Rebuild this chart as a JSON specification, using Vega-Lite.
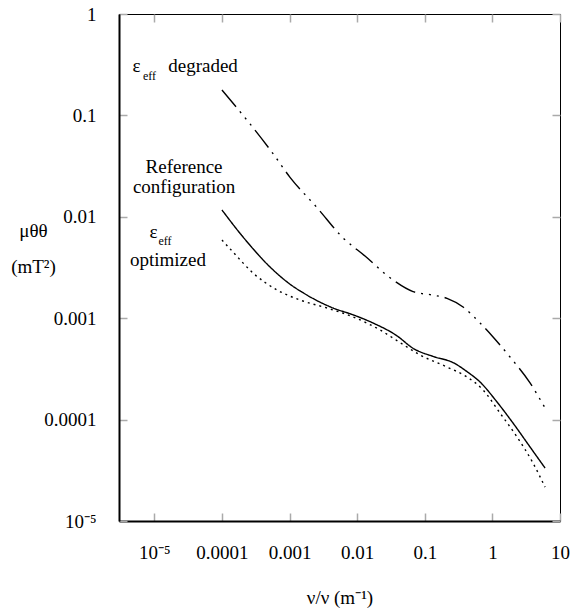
{
  "$schema": "https://vega.github.io/schema/vega-lite/v6.json",
  "width": 441,
  "height": 507,
  "autosize": {"type": "none"},
  "padding": {"left": 119, "top": 14, "right": 10, "bottom": 88},
  "background": "white",
  "config": {
    "view": {"stroke": "black", "strokeWidth": 1},
    "font": "Liberation Serif",
    "axis": {"grid": false, "labelFont": "Liberation Serif", "titleFont": "Liberation Serif"},
    "text": {"font": "Liberation Serif"}
  },
  "datasets": {
    "curves": [
      {"series": "degraded", "x": 0.0001, "y": 0.178},
      {"series": "degraded", "x": 0.000569, "y": 0.042},
      {"series": "degraded", "x": 0.001016, "y": 0.0245},
      {"series": "degraded", "x": 0.00255, "y": 0.0123},
      {"series": "degraded", "x": 0.00618, "y": 0.0062},
      {"series": "degraded", "x": 0.01306, "y": 0.0041},
      {"series": "degraded", "x": 0.0339, "y": 0.00238},
      {"series": "degraded", "x": 0.067, "y": 0.00183},
      {"series": "degraded", "x": 0.1324, "y": 0.00169},
      {"series": "degraded", "x": 0.2133, "y": 0.00157},
      {"series": "degraded", "x": 0.368, "y": 0.00129},
      {"series": "degraded", "x": 0.656, "y": 0.000897},
      {"series": "degraded", "x": 1.023, "y": 0.000653},
      {"series": "degraded", "x": 1.824, "y": 0.000414},
      {"series": "degraded", "x": 3.606, "y": 0.00023},
      {"series": "degraded", "x": 6.01, "y": 0.00013},
      {"series": "reference", "x": 0.0001, "y": 0.01167},
      {"series": "reference", "x": 0.000205, "y": 0.00632},
      {"series": "reference", "x": 0.000514, "y": 0.0032},
      {"series": "reference", "x": 0.000916, "y": 0.00228},
      {"series": "reference", "x": 0.00181, "y": 0.00169},
      {"series": "reference", "x": 0.0044, "y": 0.00126},
      {"series": "reference", "x": 0.00869, "y": 0.00108},
      {"series": "reference", "x": 0.01714, "y": 0.000897},
      {"series": "reference", "x": 0.0388, "y": 0.00067},
      {"series": "reference", "x": 0.067, "y": 0.000505},
      {"series": "reference", "x": 0.1324, "y": 0.00042},
      {"series": "reference", "x": 0.262, "y": 0.000365},
      {"series": "reference", "x": 0.422, "y": 0.000297},
      {"series": "reference", "x": 0.656, "y": 0.000235},
      {"series": "reference", "x": 1.172, "y": 0.000149},
      {"series": "reference", "x": 2.018, "y": 0.0000925},
      {"series": "reference", "x": 3.606, "y": 0.0000537},
      {"series": "reference", "x": 6.01, "y": 0.0000333},
      {"series": "optimized", "x": 0.0001, "y": 0.0059},
      {"series": "optimized", "x": 0.0001455, "y": 0.0045},
      {"series": "optimized", "x": 0.000288, "y": 0.00279},
      {"series": "optimized", "x": 0.000652, "y": 0.0019},
      {"series": "optimized", "x": 0.001429, "y": 0.00151},
      {"series": "optimized", "x": 0.00358, "y": 0.00126},
      {"series": "optimized", "x": 0.00869, "y": 0.00103},
      {"series": "optimized", "x": 0.02178, "y": 0.000766},
      {"series": "optimized", "x": 0.0431, "y": 0.000575},
      {"series": "optimized", "x": 0.0851, "y": 0.000434},
      {"series": "optimized", "x": 0.2133, "y": 0.00033},
      {"series": "optimized", "x": 0.422, "y": 0.000263},
      {"series": "optimized", "x": 0.728, "y": 0.000196},
      {"series": "optimized", "x": 1.297, "y": 0.000116},
      {"series": "optimized", "x": 2.317, "y": 0.0000673},
      {"series": "optimized", "x": 3.99, "y": 0.0000373},
      {"series": "optimized", "x": 6.01, "y": 0.0000216}
    ],
    "labels": [
      {"text": "ε", "x": 0.00000545, "y": 0.268},
      {"text": "degraded", "x": 0.0000525, "y": 0.268},
      {"text": "Reference", "x": 0.0000275, "y": 0.0272},
      {"text": "configuration", "x": 0.0000275, "y": 0.0173},
      {"text": "ε", "x": 0.0000097, "y": 0.00618},
      {"text": "optimized", "x": 0.0000159, "y": 0.00325}
    ],
    "subs": [
      {"text": "eff", "x": 0.00000847, "y": 0.2235},
      {"text": "eff", "x": 0.00001435, "y": 0.00527}
    ]
  },
  "layer": [
    {
      "data": {"name": "curves"},
      "mark": {"type": "line", "interpolate": "monotone", "strokeWidth": 1.4, "color": "black", "strokeCap": "butt"},
      "encoding": {
        "x": {
          "field": "x", "type": "quantitative",
          "scale": {"type": "log", "domain": [0.000003, 10], "nice": false},
          "axis": {
            "orient": "bottom",
            "values": [0.00001, 0.0001, 0.001, 0.01, 0.1, 1, 10],
            "labelExpr": "datum.value < 0.00005 ? '10⁻⁵' : format(datum.value, '')",
            "tickSize": -8, "tickColor": "#aaaaaa", "tickWidth": 1.5,
            "domain": true, "domainColor": "black", "domainWidth": 2,
            "labelFont": "Liberation Serif", "labelFontSize": 19, "labelColor": "black",
            "labelPadding": 30, "labelFlush": false, "labelOverlap": false,
            "title": "ν/ν (m⁻¹)", "titleFont": "Liberation Serif", "titleFontSize": 19,
            "titleFontWeight": "normal", "titleColor": "black",
            "titleBaseline": "alphabetic", "titleY": 82
          }
        },
        "y": {
          "field": "y", "type": "quantitative",
          "scale": {"type": "log", "domain": [0.00001, 1], "nice": false},
          "axis": {
            "orient": "left",
            "values": [0.00001, 0.0001, 0.001, 0.01, 0.1, 1],
            "labelExpr": "datum.value < 0.00005 ? '10⁻⁵' : format(datum.value, '')",
            "tickSize": -8, "tickColor": "#aaaaaa", "tickWidth": 1.5,
            "domain": true, "domainColor": "black", "domainWidth": 2,
            "labelFont": "Liberation Serif", "labelFontSize": 19, "labelColor": "black",
            "labelPadding": 31, "labelFlush": false, "labelOverlap": false,
            "title": ["μθθ", "(mT²)"], "titleFont": "Liberation Serif", "titleFontSize": 19,
            "titleFontWeight": "normal", "titleColor": "black", "titleAngle": 0,
            "titleAlign": "center", "titleBaseline": "alphabetic", "titleLineHeight": 36,
            "titleX": -86, "titleY": 222
          }
        },
        "strokeDash": {
          "field": "series", "type": "nominal",
          "scale": {"domain": ["degraded", "reference", "optimized"], "range": [[22, 6, 2, 6, 2, 6, 2, 6], [1, 0], [2, 4]]},
          "legend": null
        }
      }
    },
    {
      "data": {"name": "labels"},
      "mark": {"type": "text", "fontSize": 19, "font": "Liberation Serif", "align": "center", "baseline": "alphabetic", "color": "black"},
      "encoding": {
        "x": {"field": "x", "type": "quantitative", "axis": null},
        "y": {"field": "y", "type": "quantitative", "axis": null},
        "text": {"field": "text"}
      }
    },
    {
      "data": {"name": "subs"},
      "mark": {"type": "text", "fontSize": 12, "font": "Liberation Serif", "align": "center", "baseline": "alphabetic", "color": "black"},
      "encoding": {
        "x": {
          "field": "x", "type": "quantitative",
          "axis": {
            "orient": "top", "values": [0.00001, 0.0001, 0.001, 0.01, 0.1, 1, 10],
            "labels": false, "domain": false, "title": null,
            "tickSize": -8, "tickColor": "#aaaaaa", "tickWidth": 1.5
          }
        },
        "y": {
          "field": "y", "type": "quantitative",
          "axis": {
            "orient": "right", "values": [0.00001, 0.0001, 0.001, 0.01, 0.1, 1],
            "labels": false, "domain": false, "title": null,
            "tickSize": -8, "tickColor": "#aaaaaa", "tickWidth": 1.5
          }
        },
        "text": {"field": "text"}
      }
    }
  ],
  "resolve": {"axis": {"x": "independent", "y": "independent"}}
}
